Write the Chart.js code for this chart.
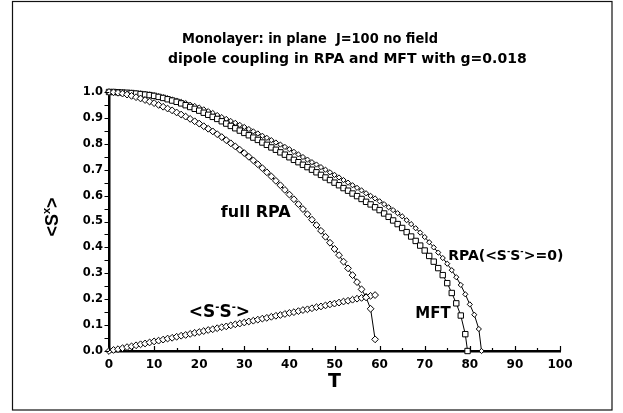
<!DOCTYPE html>
<html><head><meta charset="utf-8">
<script src="https://cdn.jsdelivr.net/npm/chart.js@4.4.0/dist/chart.umd.min.js"></script>
<style>html,body{margin:0;padding:0;background:#fff;}canvas{display:block;}</style>
</head><body>
<canvas id="c" width="623" height="413"></canvas>
<script>
// ---- data ----
const T = [0,1,2,3,4,5,6,7,8,9,10,11,12,13,14,15,16,17,18,19,20,21,22,23,24,25,26,27,28,29,30,31,32,33,34,35,36,37,38,39,40,41,42,43,44,45,46,47,48,49,50,51,52,53,54,55,56,57,58,59,60,61,62,63,64,65,66,67,68,69,70,71,72,73,74,75,76,77,78,79,80,81,82];

const tFull = T.slice(0, 60);
const mFull = [1.000,0.999,0.997,0.994,0.990,0.985,0.980,0.975,0.969,0.963,0.957,0.950,0.943,0.936,0.929,0.921,0.913,0.905,0.896,0.887,0.878,0.868,0.858,0.848,0.837,0.826,0.814,0.802,0.790,0.777,0.764,0.750,0.736,0.721,0.706,0.690,0.674,0.657,0.640,0.622,0.604,0.586,0.567,0.548,0.528,0.507,0.486,0.464,0.441,0.418,0.394,0.370,0.345,0.319,0.293,0.266,0.238,0.207,0.163,0.045];

const tSS = T.slice(0, 60);
const sSS = [0.000,0.004,0.007,0.011,0.015,0.018,0.022,0.026,0.029,0.033,0.037,0.040,0.044,0.048,0.051,0.055,0.059,0.062,0.066,0.070,0.073,0.077,0.081,0.084,0.088,0.092,0.095,0.099,0.103,0.106,0.110,0.114,0.117,0.121,0.125,0.128,0.132,0.136,0.139,0.143,0.147,0.150,0.154,0.158,0.161,0.165,0.169,0.172,0.176,0.180,0.183,0.187,0.191,0.194,0.198,0.202,0.205,0.209,0.213,0.216];

const tMFT = T.slice(0, 80).concat([79.5]);
const mMFT = [1.000,1.000,0.999,0.998,0.997,0.996,0.994,0.992,0.990,0.988,0.985,0.981,0.977,0.972,0.967,0.962,0.956,0.949,0.942,0.935,0.928,0.920,0.912,0.904,0.896,0.887,0.878,0.869,0.860,0.851,0.842,0.833,0.824,0.815,0.805,0.796,0.786,0.777,0.767,0.758,0.748,0.738,0.729,0.719,0.710,0.700,0.690,0.680,0.670,0.660,0.650,0.640,0.629,0.619,0.608,0.598,0.587,0.576,0.566,0.555,0.544,0.531,0.518,0.504,0.490,0.475,0.459,0.442,0.425,0.407,0.388,0.367,0.345,0.320,0.293,0.262,0.224,0.184,0.137,0.065,0.000];

const tRPA0 = T.slice(0, 83).concat([82.6]);
const mRPA0 = [1.000,1.000,0.999,0.999,0.998,0.997,0.996,0.995,0.993,0.991,0.988,0.984,0.980,0.976,0.971,0.967,0.962,0.957,0.951,0.946,0.940,0.933,0.926,0.919,0.911,0.903,0.896,0.888,0.881,0.873,0.865,0.857,0.848,0.840,0.831,0.823,0.814,0.805,0.797,0.788,0.779,0.769,0.759,0.749,0.739,0.729,0.720,0.710,0.700,0.690,0.680,0.670,0.660,0.650,0.640,0.630,0.620,0.609,0.599,0.589,0.578,0.567,0.555,0.544,0.532,0.520,0.505,0.490,0.474,0.457,0.440,0.420,0.400,0.380,0.359,0.337,0.312,0.285,0.255,0.219,0.180,0.140,0.085,0.000];

const xTicks = [0,10,20,30,40,50,60,70,80,90,100];
const yTicks = [0.0,0.1,0.2,0.3,0.4,0.5,0.6,0.7,0.8,0.9,1.0];

const pts = (xs, ys) => xs.map((x, i) => ({x: x, y: ys[i]}));

const DJ = '"DejaVu Sans", sans-serif';
const LB = '"Liberation Sans", Arial, sans-serif';

function rich(ctx, parts, x, y, size, fam) {
  let cx = x;
  for (const p of parts) {
    if (p.sup) {
      ctx.font = 'bold ' + Math.round(size * 0.6) + 'px ' + fam;
      ctx.fillText(p.t, cx, y - size * 0.42);
    } else {
      ctx.font = 'bold ' + size + 'px ' + fam;
      ctx.fillText(p.t, cx, y);
    }
    cx += ctx.measureText(p.t).width;
  }
  return cx - x;
}
function richWidth(ctx, parts, size, fam) {
  let w = 0;
  for (const p of parts) {
    ctx.font = 'bold ' + (p.sup ? Math.round(size * 0.6) : size) + 'px ' + fam;
    w += ctx.measureText(p.t).width;
  }
  return w;
}

const decor = {
  id: 'decor',
  afterDraw(chart) {
    const ctx = chart.ctx, xs = chart.scales.x, ys = chart.scales.y, ca = chart.chartArea;
    ctx.save();
    // frame
    ctx.strokeStyle = '#111'; ctx.lineWidth = 1.2;
    ctx.strokeRect(12.5, 1.5, 599.5, 408.5);
    // tick marks
    ctx.strokeStyle = '#000'; ctx.lineWidth = 1.2;
    ctx.beginPath();
    for (let i = 0; i <= 20; i++) {
      const v = i * 5, px = Math.round(xs.getPixelForValue(v)) + 0.5;
      const len = (i % 2 === 0) ? 5 : 3;
      ctx.moveTo(px, ca.bottom); ctx.lineTo(px, ca.bottom - len);
    }
    for (let i = 0; i <= 20; i++) {
      const v = i * 0.05, py = Math.round(ys.getPixelForValue(v)) + 0.5;
      ctx.moveTo(ca.left, py); ctx.lineTo(ca.left - 4.5, py);
    }
    ctx.stroke();
    ctx.fillStyle = '#000';
    ctx.textAlign = 'left'; ctx.textBaseline = 'alphabetic';
    // title
    ctx.font = 'bold 14px ' + DJ;
    ctx.fillText('Monolayer: in plane  J=100 no field', 182, 43, 256);
    ctx.fillText('dipole coupling in RPA and MFT with g=0.018', 168, 62.5);
    // annotations
    ctx.font = 'bold 16px ' + DJ;
    ctx.fillText('full RPA', xs.getPixelForValue(24.8), ys.getPixelForValue(0.517));
    ctx.font = 'bold 15px ' + DJ;
    ctx.fillText('MFT', xs.getPixelForValue(67.9), ys.getPixelForValue(0.127));
    rich(ctx, [{t:'RPA(<S'},{t:'-',sup:true},{t:'S'},{t:'-',sup:true},{t:'>=0)'}],
         xs.getPixelForValue(75.2), ys.getPixelForValue(0.351), 14, DJ);
    rich(ctx, [{t:'<S'},{t:'-',sup:true},{t:'S'},{t:'-',sup:true},{t:'>'}],
         xs.getPixelForValue(17.7), ys.getPixelForValue(0.131), 17, DJ);
    // x title
    ctx.font = 'bold 19px ' + DJ;
    ctx.textAlign = 'center';
    ctx.fillText('T', (ca.left + ca.right) / 2, 387);
    // y title
    ctx.textAlign = 'left';
    const yParts = [{t:'<S'},{t:'x',sup:true},{t:'>'}];
    const w = richWidth(ctx, yParts, 18, LB);
    ctx.translate(58, 217);
    ctx.rotate(-Math.PI / 2);
    rich(ctx, yParts, -w / 2, 0, 18, LB);
    ctx.restore();
  }
};

const common = {
  showLine: true, borderColor: '#000', borderWidth: 1, fill: false, tension: 0,
  pointBackgroundColor: '#fff', pointBorderColor: '#000', pointBorderWidth: 1,
  clip: false
};

new Chart(document.getElementById('c'), {
  type: 'line',
  data: {
    datasets: [
      Object.assign({label: 'full RPA', data: pts(tFull, mFull), pointStyle: 'rectRot', pointRadius: 3.4}, common),
      Object.assign({label: '<S-S->', data: pts(tSS, sSS), pointStyle: 'rectRot', pointRadius: 3.4}, common),
      Object.assign({label: 'MFT', data: pts(tMFT, mMFT), pointStyle: 'rect', pointRadius: 3.8}, common),
      Object.assign({label: 'RPA(<S-S->=0)', data: pts(tRPA0, mRPA0), pointStyle: 'rectRot', pointRadius: 2.6}, common)
    ]
  },
  options: {
    responsive: false, animation: false, devicePixelRatio: 1,
    layout: {padding: {left: 0, top: 92, right: 63, bottom: 0}},
    plugins: {legend: {display: false}, tooltip: {enabled: false}, title: {display: false}},
    scales: {
      x: {
        type: 'linear', min: 0, max: 100,
        afterBuildTicks: s => { s.ticks = xTicks.map(v => ({value: v})); },
        afterFit: s => { s.height = 62; },
        ticks: {color: '#000', font: {family: DJ, size: 12, weight: 'bold'}, padding: 7, maxRotation: 0, autoSkip: false},
        grid: {display: false, drawTicks: false, tickLength: 0},
        border: {display: true, color: '#000', width: 2.5}
      },
      y: {
        type: 'linear', min: 0, max: 1,
        afterBuildTicks: s => { s.ticks = yTicks.map(v => ({value: v})); },
        afterFit: s => { s.width = 109; },
        ticks: {color: '#000', font: {family: DJ, size: 11.5, weight: 'bold'}, padding: 6, autoSkip: false,
                callback: v => Number(v).toFixed(1)},
        grid: {display: false, drawTicks: false, tickLength: 0},
        border: {display: true, color: '#000', width: 2.5}
      }
    }
  },
  plugins: [decor]
});
</script>
</body></html>
